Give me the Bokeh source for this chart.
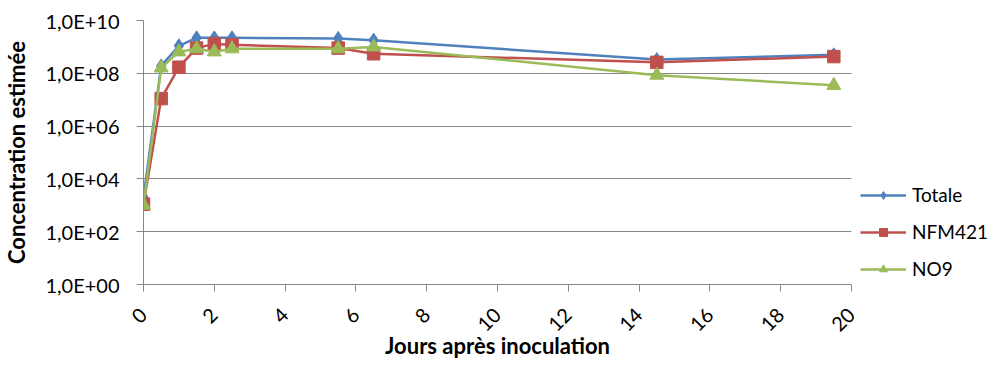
import math
from bokeh.plotting import figure
from bokeh.layouts import row
from bokeh.models import FixedTicker, CustomJSTickFormatter, Legend, Range1d
from bokeh.embed import file_html
from bokeh.resources import INLINE

# ---- data ----
days = [0, 0.5, 1, 1.5, 2, 2.5, 5.5, 6.5, 14.5, 19.5]
totale = [2.0e3, 1.9e8, 1.1e9, 2.2e9, 2.2e9, 2.2e9, 2.1e9, 1.8e9, 3.3e8, 5.0e8]
nfm421 = [1.1e3, 1.1e7, 1.7e8, 9.0e8, 1.3e9, 1.2e9, 9.0e8, 5.5e8, 2.6e8, 4.3e8]
no9 = [1.0e3, 1.6e8, 6.5e8, 8.5e8, 6.5e8, 8.5e8, 8.5e8, 1.0e9, 8.5e7, 3.5e7]
series_names = ["Totale", "NFM421", "NO9"]

x_ticks = [0, 2, 4, 6, 8, 10, 12, 14, 16, 18, 20]
y_ticks = [1, 1e2, 1e4, 1e6, 1e8, 1e10]
y_tick_labels = ["1,0E+00", "1,0E+02", "1,0E+04", "1,0E+06", "1,0E+08", "1,0E+10"]

x_title = "Jours après inoculation"
y_title = "Concentration estimée"

FONT = "Lato"
GRID = "#868686"
colors = ["#4F81BD", "#C0504D", "#9BBB59"]
markers = [("diamond", 14), ("square", 12.5), ("triangle", 14)]

p = figure(width=859, height=362, y_axis_type="log",
           x_range=Range1d(0, 20), y_range=Range1d(1, 1e10),
           output_backend="svg", toolbar_location=None,
           min_border_left=142, min_border_right=8,
           min_border_top=20, min_border_bottom=78)
p.outline_line_color = None
p.background_fill_color = "white"
p.border_fill_color = "white"

p.xgrid.visible = False
p.ygrid.grid_line_color = GRID
p.ygrid.grid_line_width = 1
p.ygrid.minor_grid_line_color = None

p.xaxis.ticker = FixedTicker(ticks=x_ticks)
p.yaxis.ticker = FixedTicker(ticks=y_ticks, minor_ticks=[])
p.yaxis.formatter = CustomJSTickFormatter(args=dict(labels=y_tick_labels), code="""
    const i = Math.round(Math.log10(tick) / 2);
    return labels[i];
""")

for ax in (p.xaxis, p.yaxis):
    ax.axis_line_color = GRID
    ax.major_tick_line_color = GRID
    ax.minor_tick_line_color = None
    ax.major_tick_in = 0
    ax.major_tick_out = 7
    ax.major_label_text_font = FONT
    ax.major_label_text_font_size = "20px"
    ax.major_label_text_color = "#000000"
    ax.axis_label_text_font = FONT
    ax.axis_label_text_font_style = "bold"
    ax.axis_label_text_font_size = "22px"
    ax.axis_label_text_color = "#000000"

p.xaxis.axis_label = x_title
p.yaxis.axis_label = y_title
p.xaxis.major_label_orientation = math.pi / 4
p.xaxis.major_label_standoff = 20
p.xaxis.axis_label_standoff = -9
p.yaxis.major_label_standoff = 17
p.yaxis.axis_label_standoff = 12

for vals, c, (mk, sz) in zip([totale, nfm421, no9], colors, markers):
    p.line(days, vals, line_color=c, line_width=2.5)
    p.scatter(days, vals, marker=mk, size=sz, fill_color=c, line_color=c)

# ---- legend panel (separate canvas right of the plot area) ----
lg = figure(width=130, height=362, x_range=Range1d(0, 1), y_range=Range1d(0, 1),
            output_backend="svg", toolbar_location=None,
            x_axis_location=None, y_axis_location=None,
            min_border=0, min_border_left=0, min_border_right=0,
            min_border_top=0, min_border_bottom=0)
lg.grid.visible = False
lg.outline_line_color = None
lg.background_fill_color = "white"
lg.border_fill_color = "white"

items = []
for name, c, (mk, sz) in zip(series_names, colors, markers):
    # swatch renderers: points outside the visible range
    lr = lg.line([-5, -4], [-5, -4], line_color=c, line_width=2.5)
    mr = lg.scatter([-5], [-5], marker=mk, size=sz, fill_color=c, line_color=c)
    items.append((name, [lr, mr]))

legend = Legend(items=items, location=(1, 4))
legend.label_text_font = FONT
legend.label_text_font_size = "19px"
legend.label_text_color = "#000000"
legend.glyph_width = 46
legend.glyph_height = 20
legend.label_height = 20
legend.spacing = 14
legend.label_standoff = 6
legend.padding = 0
legend.margin = 0
legend.border_line_color = None
legend.background_fill_alpha = 0
lg.add_layout(legend, "center")

layout = row(p, lg, spacing=0)
open("out.html", "w").write(file_html(layout, INLINE))
